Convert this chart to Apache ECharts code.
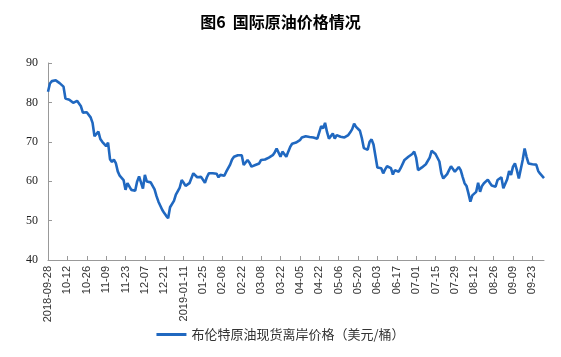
<!DOCTYPE html>
<html>
<head>
<meta charset="utf-8">
<script src="https://cdn.jsdelivr.net/npm/echarts@6/dist/echarts.min.js"></script>
<style>html,body{margin:0;padding:0;background:#fff;}#c{width:561px;height:357px;}</style>
</head>
<body>
<div id="c"></div>
<script>
const titleText = '图6  国际原油价格情况';
const seriesName = '布伦特原油现货离岸价格（美元/桶）';
const startDate = '2018-09-28';
const skippedDays = ['2018-12-24','2018-12-25','2018-12-26','2018-12-31','2019-01-01','2019-04-19'];
const brentPrices = [
82.7,84.8,85.4,85.9,85.6,85.3,84.9,85.4,84.0,81.0,
80.8,80.7,80.3,79.9,80.3,80.4,80.4,79.0,77.4,77.3,
77.5,77.4,76.2,74.8,71.4,71.5,72.6,70.7,70.0,69.5,
68.9,69.8,65.6,64.9,65.5,64.6,62.5,61.4,61.4,60.3,
57.8,59.5,59.3,57.8,58.2,57.6,59.9,61.2,61.3,58.1,
61.6,59.9,59.6,59.7,58.8,57.9,56.2,54.8,54.8,52.7,
51.9,51.2,50.6,53.4,52.9,55.0,56.6,56.9,58.4,60.3,
59.6,58.8,58.6,59.5,59.9,62.0,62.2,61.0,61.1,61.1,
60.6,59.6,61.0,62.0,62.4,62.0,62.2,61.9,61.0,61.6,
61.1,61.4,62.4,63.3,64.2,65.5,66.2,65.7,66.6,66.8,
66.6,64.1,64.5,65.4,64.7,63.7,64.1,64.1,64.2,64.5,
65.4,64.9,65.5,65.6,66.0,66.2,66.6,67.3,68.3,68.1,
66.2,67.5,67.5,66.2,67.5,68.7,69.5,69.4,69.8,70.2,
70.4,71.1,71.3,71.4,71.4,71.2,70.8,71.1,70.6,70.8,
71.0,74.0,73.4,74.8,72.5,70.8,71.1,72.1,70.8,71.7,
71.7,71.3,70.8,71.1,70.6,71.7,72.4,73.2,74.6,73.8,
73.5,72.8,70.9,68.4,67.9,68.0,70.0,70.6,69.3,66.4,
63.5,63.0,63.3,62.0,63.0,63.8,64.1,63.3,61.7,62.8,
63.3,62.4,63.3,63.5,65.4,64.9,66.2,66.6,66.9,67.5,
66.0,62.8,63.3,63.5,64.0,64.3,64.1,66.0,67.7,67.2,
66.9,66.6,65.0,62.0,60.7,61.2,61.8,62.8,63.8,63.5,
62.4,62.2,63.6,62.8,61.1,59.5,58.8,56.9,54.8,56.4,
56.9,57.3,59.6,57.3,58.8,59.5,59.2,60.4,59.6,58.9,
58.7,58.6,60.3,60.6,61.0,58.2,57.8,60.5,62.6,61.6,
63.7,64.5,62.8,60.7,61.1,65.4,68.3,66.2,64.5,64.2,
64.3,64.8,64.2,62.6,61.9,62.0,60.8
];
const yTicks = [40, 50, 60, 70, 80, 90];

function pad(n){return n<10?'0'+n:''+n;}
function fmt(d){return d.getUTCFullYear()+'-'+pad(d.getUTCMonth()+1)+'-'+pad(d.getUTCDate());}
const dates = [];
(function(){
  const d = new Date(startDate+'T00:00:00Z');
  while (dates.length < brentPrices.length) {
    const wd = d.getUTCDay();
    const s = fmt(d);
    if (wd !== 0 && wd !== 6 && skippedDays.indexOf(s) < 0) dates.push(s);
    d.setUTCDate(d.getUTCDate()+1);
  }
})();

const chart = echarts.init(document.getElementById('c'));
const showIdx = (i) => i % 10 === 0;
chart.setOption({
  animation: false,
  backgroundColor: '#ffffff',
  title: {
    text: titleText, left: 'center', top: 9,
    textStyle: {fontSize: 16, fontWeight: 'bold', color: '#000', fontFamily: 'Noto Sans CJK SC'}
  },
  legend: {
    bottom: 11, left: 'center', itemWidth: 30, itemHeight: 3, itemGap: 4,
    icon: 'rect',
    textStyle: {fontSize: 13, color: '#333', fontFamily: 'Noto Sans CJK SC'},
    data: [seriesName]
  },
  grid: {left: 48, right: 17, top: 63, bottom: 97},
  xAxis: {
    type: 'category', data: dates, boundaryGap: false,
    axisLine: {lineStyle: {color: '#999', width: 1}},
    axisTick: {inside: true, length: 4, interval: (i) => showIdx(i), lineStyle: {color: '#999'}},
    axisLabel: {
      interval: (i) => showIdx(i), rotate: 90, fontSize: 11, color: '#333',
      fontFamily: 'Liberation Sans', margin: 6,
      formatter: function (v, i) {
        const y = v.slice(0,4);
        if (i === 0) return v;
        const prev = dates[i-10];
        if (prev && prev.slice(0,4) !== y) return v;
        return v.slice(5);
      }
    },
    splitLine: {show: false}
  },
  yAxis: {
    type: 'value', min: yTicks[0], max: yTicks[yTicks.length-1], interval: 10,
    axisLine: {show: true, lineStyle: {color: '#999', width: 1}},
    axisTick: {show: true, inside: true, length: 4, lineStyle: {color: '#999'}},
    axisLabel: {fontSize: 12, color: '#222', fontFamily: 'Liberation Serif', margin: 10},
    splitLine: {show: false}
  },
  series: [{
    name: seriesName, type: 'line', data: brentPrices, symbol: 'none', smooth: false,
    lineStyle: {color: '#2068C0', width: 2.6}, itemStyle: {color: '#2068C0'}
  }]
});
</script>
</body>
</html>
